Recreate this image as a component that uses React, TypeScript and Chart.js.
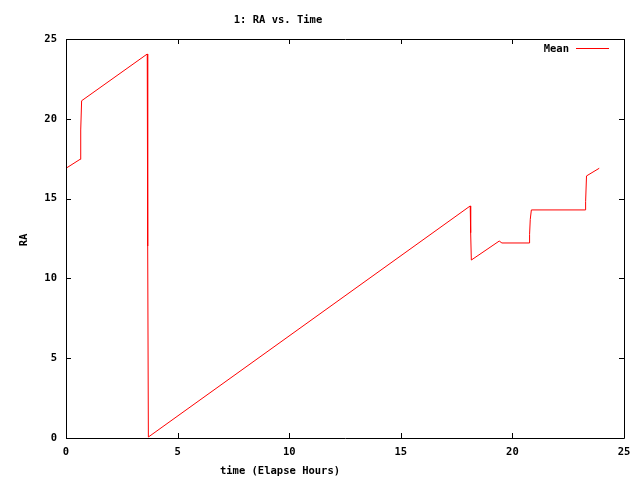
import React, { useEffect, useRef } from "react";
import { Chart, registerables } from "chart.js";

Chart.register(...registerables);

const chartTitle = "1: RA vs. Time";
const xAxisTitle = "time (Elapse Hours)";
const yAxisTitle = "RA";
const seriesLabel = "Mean";
const axisMin = 0;
const axisMax = 25;
const axisStep = 5;

const timeHours = [
  0, 0.63, 0.66, 0.7, 3.64, 3.66, 3.69, 18.11, 18.13, 18.16, 19.41, 19.53,
  20.75, 20.77, 20.8, 20.85, 23.27, 23.28, 23.32, 23.89,
];
const raMean = [
  16.9, 17.46, 19.3, 21.13, 24.06, 12.03, 0.06, 14.54, 12.86, 11.15, 12.34,
  12.22, 12.22, 12.76, 13.7, 14.29, 14.29, 14.81, 16.42, 16.9,
];

const FONT = "bold 10.5px 'DejaVu Sans Mono', monospace";

const framePlugin = {
  id: "gnuplotFrame",
  afterDraw(chart: any) {
    const { ctx, chartArea } = chart;
    const { left, right, top, bottom } = chartArea;
    const xs = chart.scales.x;
    const ys = chart.scales.y;
    ctx.save();
    ctx.strokeStyle = "#000";
    ctx.lineWidth = 1;
    ctx.beginPath();
    ctx.rect(Math.round(left) + 0.5, Math.round(top) + 0.5, Math.round(right - left), Math.round(bottom - top));
    ctx.stroke();
    const tl = 5;
    ctx.beginPath();
    for (let v = axisMin; v <= axisMax; v += axisStep) {
      const px = Math.round(xs.getPixelForValue(v)) + 0.5;
      ctx.moveTo(px, bottom);
      ctx.lineTo(px, bottom - tl);
      ctx.moveTo(px, top);
      ctx.lineTo(px, top + tl);
      const py = Math.round(ys.getPixelForValue(v)) + 0.5;
      ctx.moveTo(left, py);
      ctx.lineTo(left + tl, py);
      ctx.moveTo(right, py);
      ctx.lineTo(right - tl, py);
    }
    ctx.stroke();

    ctx.fillStyle = "#000";
    ctx.font = FONT;
    ctx.textAlign = "center";
    ctx.textBaseline = "middle";
    ctx.fillText(chartTitle, 278, 20);
    ctx.fillText(xAxisTitle, 280, 471);
    ctx.save();
    ctx.translate(24, 240);
    ctx.rotate(-Math.PI / 2);
    ctx.fillText(yAxisTitle, 0, 0);
    ctx.restore();

    // legend
    ctx.textAlign = "right";
    ctx.fillText(seriesLabel, 569, 49);
    ctx.strokeStyle = "#ff0000";
    ctx.beginPath();
    ctx.moveTo(576, 48.5);
    ctx.lineTo(609, 48.5);
    ctx.stroke();
    ctx.restore();
  },
};

export default function App() {
  const ref = useRef<HTMLCanvasElement | null>(null);
  useEffect(() => {
    const prevMargin = document.body.style.margin;
    document.body.style.margin = "0";
    if (!ref.current) return;
    const chart = new Chart(ref.current, {
      type: "scatter",
      data: {
        datasets: [
          {
            label: seriesLabel,
            data: timeHours.map((t, i) => ({ x: t, y: raMean[i] })),
            showLine: true,
            borderColor: "#ff0000",
            backgroundColor: "#ff0000",
            borderWidth: 1,
            pointRadius: 0,
            tension: 0,
          },
        ],
      },
      options: {
        responsive: false,
        animation: false,
        devicePixelRatio: 1,
        layout: { padding: { top: 39, right: 16, left: 0, bottom: 0 } },
        plugins: {
          legend: { display: false },
          title: { display: false },
          tooltip: { enabled: false },
        },
        scales: {
          x: {
            type: "linear",
            min: axisMin,
            max: axisMax,
            grid: { display: false, drawTicks: false },
            border: { display: false },
            ticks: {
              stepSize: axisStep,
              padding: 8,
              color: "#000",
              maxRotation: 0,
              font: { family: "'DejaVu Sans Mono', monospace", size: 10.5, weight: "bold" },
            },
            afterFit: (s: any) => {
              s.height = 42;
            },
          },
          y: {
            type: "linear",
            min: axisMin,
            max: axisMax,
            grid: { display: false, drawTicks: false },
            border: { display: false },
            ticks: {
              stepSize: axisStep,
              padding: 9,
              color: "#000",
              font: { family: "'DejaVu Sans Mono', monospace", size: 10.5, weight: "bold" },
            },
            afterFit: (s: any) => {
              s.width = 66;
            },
          },
        },
      },
      plugins: [framePlugin],
    });
    return () => {
      chart.destroy();
      document.body.style.margin = prevMargin;
    };
  }, []);
  return (
    <div style={{ position: "absolute", left: 0, top: 0, width: 640, height: 480, background: "#fff" }}>
      <canvas ref={ref} width={640} height={480} style={{ width: 640, height: 480, display: "block" }} />
    </div>
  );
}
